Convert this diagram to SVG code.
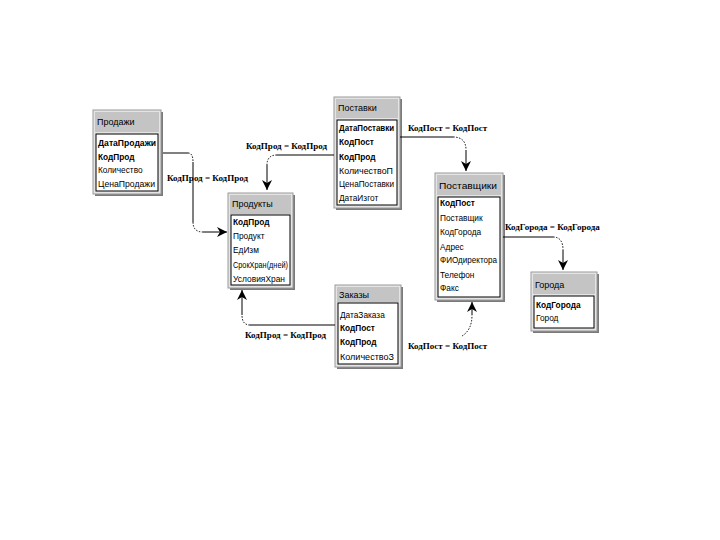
<svg xmlns="http://www.w3.org/2000/svg" width="720" height="540" viewBox="0 0 720 540">
<style>
.sh{fill:#7a7a7a}
.ob{fill:#e4e4e4;stroke:#9a9a9a;stroke-width:1}
.tb{fill:#c4c4c4}
.tt{font-family:"Liberation Sans",Arial,sans-serif;font-size:9px;fill:#000}
.ib{fill:#fff;stroke:#000;stroke-width:1}
.f{font-family:"Liberation Sans",Arial,sans-serif;font-size:8.3px;fill:#000}
.k{font-weight:bold}
.ln{fill:none;stroke:#000;stroke-width:1}
.dt{fill:none;stroke:#000;stroke-width:1;stroke-dasharray:1.5 1.5}
.lb{font-family:"Liberation Serif","Times New Roman",serif;font-size:9px;font-weight:bold;fill:#000}
</style>
<defs>
<marker id="ah" viewBox="0 0 10 10" refX="10" refY="5" markerWidth="10" markerHeight="10" markerUnits="userSpaceOnUse" orient="auto">
<path d="M10,5 L0,0 L3,5 L0,10 Z" fill="#000"/>
</marker>
</defs>
<rect width="720" height="540" fill="#fff"/>

<g id="prodazhi">
<rect class="sh" x="95" y="112" width="68" height="84"/>
<rect class="ob" x="93" y="110" width="68" height="84"/>
<rect class="tb" x="95" y="112" width="64" height="20"/>
<text class="tt" x="97" y="125">Продажи</text>
<rect class="ib" x="96" y="134" width="62" height="57"/>
<text class="f k" x="98" y="146" textLength="58" lengthAdjust="spacingAndGlyphs">ДатаПродажи</text>
<text class="f k" x="98" y="160">КодПрод</text>
<text class="f" x="98" y="173">Количество</text>
<text class="f" x="98" y="187" textLength="57" lengthAdjust="spacingAndGlyphs">ЦенаПродажи</text>
</g>

<g id="produkty">
<rect class="sh" x="230" y="195" width="65" height="95"/>
<rect class="ob" x="228" y="193" width="65" height="95"/>
<rect class="tb" x="230" y="195" width="61" height="19"/>
<text class="tt" x="232" y="207">Продукты</text>
<rect class="ib" x="231" y="215" width="59" height="70"/>
<text class="f k" x="233" y="225">КодПрод</text>
<text class="f" x="233" y="239">Продукт</text>
<text class="f" x="233" y="253">ЕдИзм</text>
<text class="f" x="233" y="268" textLength="55" lengthAdjust="spacingAndGlyphs">СрокХран(дней)</text>
<text class="f" x="233" y="282" textLength="52" lengthAdjust="spacingAndGlyphs">УсловияХран</text>
</g>

<g id="postavki">
<rect class="sh" x="336" y="99" width="66" height="111"/>
<rect class="ob" x="334" y="97" width="66" height="111"/>
<rect class="tb" x="336" y="99" width="62" height="19"/>
<text class="tt" x="338" y="111">Поставки</text>
<rect class="ib" x="337" y="120" width="60" height="85"/>
<text class="f k" x="339" y="131" textLength="55" lengthAdjust="spacingAndGlyphs">ДатаПоставки</text>
<text class="f k" x="339" y="145">КодПост</text>
<text class="f k" x="339" y="160">КодПрод</text>
<text class="f" x="339" y="174" textLength="54" lengthAdjust="spacingAndGlyphs">КоличествоП</text>
<text class="f" x="339" y="187" textLength="55" lengthAdjust="spacingAndGlyphs">ЦенаПоставки</text>
<text class="f" x="339" y="201">ДатаИзгот</text>
</g>

<g id="postavshiki">
<rect class="sh" x="437" y="175" width="68" height="127"/>
<rect class="ob" x="435" y="173" width="68" height="127"/>
<rect class="tb" x="437" y="175" width="64" height="20"/>
<text class="tt" x="439" y="189" textLength="58" lengthAdjust="spacingAndGlyphs">Поставщики</text>
<rect class="ib" x="438" y="197" width="62" height="100"/>
<text class="f k" x="440" y="206">КодПост</text>
<text class="f" x="440" y="221">Поставщик</text>
<text class="f" x="440" y="235">КодГорода</text>
<text class="f" x="440" y="250">Адрес</text>
<text class="f" x="440" y="263" textLength="57" lengthAdjust="spacingAndGlyphs">ФИОдиректора</text>
<text class="f" x="440" y="278">Телефон</text>
<text class="f" x="440" y="291">Факс</text>
</g>

<g id="goroda">
<rect class="sh" x="533" y="274" width="66" height="59"/>
<rect class="ob" x="531" y="272" width="66" height="59"/>
<rect class="tb" x="533" y="274" width="62" height="20"/>
<text class="tt" x="535" y="288">Города</text>
<rect class="ib" x="534" y="296" width="60" height="32"/>
<text class="f k" x="536" y="308">КодГорода</text>
<text class="f" x="536" y="321">Город</text>
</g>

<g id="zakazy">
<rect class="sh" x="337" y="287" width="66" height="82"/>
<rect class="ob" x="335" y="285" width="66" height="82"/>
<rect class="tb" x="337" y="287" width="62" height="15"/>
<text class="tt" x="339" y="298">Заказы</text>
<rect class="ib" x="338" y="303" width="60" height="61"/>
<text class="f" x="340" y="318">ДатаЗаказа</text>
<text class="f k" x="340" y="331">КодПост</text>
<text class="f k" x="340" y="345">КодПрод</text>
<text class="f" x="340" y="360" textLength="54" lengthAdjust="spacingAndGlyphs">КоличествоЗ</text>
</g>

<g id="connectors">
<path class="ln" d="M163,153 H188"/>
<path class="dt" d="M188,153 Q193,153 193,162"/>
<path class="ln" d="M193,162 V222"/>
<path class="dt" d="M193,222 Q193,232 203,232"/>
<path class="ln" d="M203,232 H227" marker-end="url(#ah)"/>

<path class="ln" d="M334,155 H277"/>
<path class="dt" d="M277,155 Q267,155 267,165"/>
<path class="ln" d="M267,165 V190" marker-end="url(#ah)"/>

<path class="ln" d="M400,137 H453"/>
<path class="dt" d="M453,137 Q466,137 466,150"/>
<path class="ln" d="M466,150 V171" marker-end="url(#ah)"/>

<path class="ln" d="M503,237 H553"/>
<path class="dt" d="M553,237 Q563,237 563,250"/>
<path class="ln" d="M563,250 V270" marker-end="url(#ah)"/>

<path class="ln" d="M335,325 H250"/>
<path class="dt" d="M250,325 Q242,325 242,315"/>
<path class="ln" d="M242,315 V290" marker-end="url(#ah)"/>

<path class="dt" d="M462,336 Q472,330 472,315"/>
<path class="ln" d="M472,315 V302" marker-end="url(#ah)"/>

<text class="lb" x="167" y="181">КодПрод = КодПрод</text>
<text class="lb" x="246" y="149">КодПрод = КодПрод</text>
<text class="lb" x="408" y="131">КодПост = КодПост</text>
<text class="lb" x="505" y="230">КодГорода = КодГорода</text>
<text class="lb" x="245" y="338">КодПрод = КодПрод</text>
<text class="lb" x="408" y="349">КодПост = КодПост</text>
</g>
</svg>
